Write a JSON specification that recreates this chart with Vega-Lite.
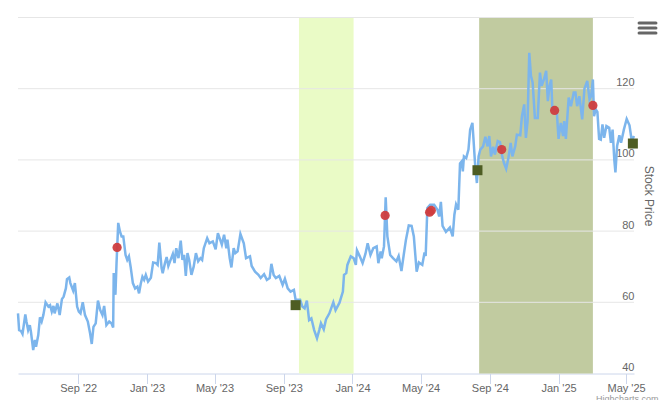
{
  "$schema": "https://vega.github.io/schema/vega-lite/v6.json",
  "width": 616,
  "height": 356,
  "autosize": "none",
  "padding": {"left": 18, "top": 17.5, "right": 26, "bottom": 26.5},
  "background": "white",
  "config": {"view": {"stroke": null}, "font": "Liberation Sans"},
  "datasets": {
    "price": [
      {"date":"2022-05-17","price":56.9},{"date":"2022-05-19","price":52.2},{"date":"2022-05-22","price":52},{"date":"2022-05-25","price":51.1},{"date":"2022-05-30","price":56.6},
      {"date":"2022-06-01","price":54.6},{"date":"2022-06-04","price":52.2},{"date":"2022-06-07","price":53.6},{"date":"2022-06-09","price":51.7},{"date":"2022-06-13","price":46.6},{"date":"2022-06-16","price":49.4},{"date":"2022-06-18","price":47.5},{"date":"2022-06-22","price":50.8},{"date":"2022-06-25","price":55.8},{"date":"2022-06-28","price":54.6},
      {"date":"2022-07-01","price":56.4},{"date":"2022-07-05","price":60},{"date":"2022-07-10","price":58.8},{"date":"2022-07-13","price":59.2},{"date":"2022-07-16","price":57.4},{"date":"2022-07-19","price":59},{"date":"2022-07-21","price":56.9},{"date":"2022-07-26","price":59.7},{"date":"2022-07-30","price":56.4},
      {"date":"2022-08-03","price":60.9},{"date":"2022-08-06","price":61.6},{"date":"2022-08-10","price":63.9},{"date":"2022-08-12","price":66.5},{"date":"2022-08-16","price":67},{"date":"2022-08-18","price":65.4},{"date":"2022-08-23","price":63.3},{"date":"2022-08-26","price":65.4},{"date":"2022-08-30","price":58.8},
      {"date":"2022-09-02","price":57.4},{"date":"2022-09-05","price":56.9},{"date":"2022-09-09","price":60},{"date":"2022-09-13","price":56.4},{"date":"2022-09-18","price":54.6},{"date":"2022-09-22","price":51.3},{"date":"2022-09-25","price":48.3},{"date":"2022-09-28","price":53.1},
      {"date":"2022-10-02","price":54.1},{"date":"2022-10-06","price":60.5},{"date":"2022-10-10","price":57.8},{"date":"2022-10-14","price":56.4},{"date":"2022-10-17","price":59},{"date":"2022-10-21","price":53.6},{"date":"2022-10-26","price":54.6},{"date":"2022-10-30","price":54.1},
      {"date":"2022-11-02","price":52.9},{"date":"2022-11-03","price":68.2},{"date":"2022-11-06","price":62.1},{"date":"2022-11-08","price":71},{"date":"2022-11-11","price":82.3},{"date":"2022-11-14","price":79.9},{"date":"2022-11-17","price":78.5},{"date":"2022-11-20","price":78.5},{"date":"2022-11-24","price":73.3},{"date":"2022-11-27","price":71.9},{"date":"2022-11-30","price":72.9},
      {"date":"2022-12-03","price":70},{"date":"2022-12-07","price":65.4},{"date":"2022-12-11","price":63.9},{"date":"2022-12-15","price":64.4},{"date":"2022-12-18","price":62.5},{"date":"2022-12-21","price":65.2},{"date":"2022-12-24","price":67.2},{"date":"2022-12-27","price":66.3},{"date":"2022-12-30","price":67.7},
      {"date":"2023-01-03","price":65.8},{"date":"2023-01-08","price":66.9},{"date":"2023-01-12","price":71.2},{"date":"2023-01-17","price":71},{"date":"2023-01-20","price":70.5},{"date":"2023-01-23","price":76.8},{"date":"2023-01-27","price":69.6},{"date":"2023-01-29","price":68.2},
      {"date":"2023-02-02","price":71},{"date":"2023-02-05","price":72.7},{"date":"2023-02-08","price":70.2},{"date":"2023-02-12","price":71.9},{"date":"2023-02-16","price":73.6},{"date":"2023-02-19","price":71},{"date":"2023-02-22","price":75.2},{"date":"2023-02-26","price":72.4},
      {"date":"2023-03-02","price":77.3},{"date":"2023-03-05","price":71.9},{"date":"2023-03-08","price":73.3},{"date":"2023-03-11","price":67.4},{"date":"2023-03-14","price":73.8},{"date":"2023-03-17","price":71.9},{"date":"2023-03-21","price":67.7},{"date":"2023-03-25","price":70},{"date":"2023-03-29","price":73.8},
      {"date":"2023-04-02","price":71.5},{"date":"2023-04-06","price":72.4},{"date":"2023-04-09","price":71.9},{"date":"2023-04-12","price":75.2},{"date":"2023-04-18","price":78},{"date":"2023-04-22","price":76.6},{"date":"2023-04-28","price":77.1},
      {"date":"2023-05-03","price":74.9},{"date":"2023-05-07","price":79.4},{"date":"2023-05-11","price":77.6},{"date":"2023-05-14","price":76.2},{"date":"2023-05-18","price":79},{"date":"2023-05-22","price":75.2},{"date":"2023-05-24","price":77.6},{"date":"2023-05-28","price":72.4},{"date":"2023-05-31","price":69.8},
      {"date":"2023-06-04","price":75.2},{"date":"2023-06-07","price":73.8},{"date":"2023-06-11","price":74.3},{"date":"2023-06-16","price":79.2},{"date":"2023-06-22","price":76.6},{"date":"2023-06-26","price":72.4},
      {"date":"2023-07-03","price":72.9},{"date":"2023-07-06","price":70.2},{"date":"2023-07-12","price":68.6},{"date":"2023-07-18","price":67.7},{"date":"2023-07-22","price":66.8},{"date":"2023-07-28","price":67.9},
      {"date":"2023-08-02","price":66.3},{"date":"2023-08-07","price":66.8},{"date":"2023-08-10","price":70.8},{"date":"2023-08-14","price":67.7},{"date":"2023-08-18","price":66.8},{"date":"2023-08-24","price":67.4},{"date":"2023-08-30","price":64.9},
      {"date":"2023-09-03","price":66.6},{"date":"2023-09-08","price":63.9},{"date":"2023-09-13","price":63},{"date":"2023-09-19","price":63.5},{"date":"2023-09-22","price":60.7},{"date":"2023-09-30","price":60.7},
      {"date":"2023-10-04","price":58.8},{"date":"2023-10-08","price":58.3},{"date":"2023-10-12","price":60.5},{"date":"2023-10-16","price":55},{"date":"2023-10-20","price":55.5},{"date":"2023-10-25","price":52.2},{"date":"2023-10-30","price":49.9},
      {"date":"2023-11-03","price":52.2},{"date":"2023-11-06","price":54.1},{"date":"2023-11-11","price":52.4},{"date":"2023-11-15","price":55.2},{"date":"2023-11-21","price":56.9},{"date":"2023-11-28","price":60},
      {"date":"2023-12-02","price":57.8},{"date":"2023-12-09","price":59.9},{"date":"2023-12-15","price":63},{"date":"2023-12-17","price":67.7},{"date":"2023-12-21","price":68.2},{"date":"2023-12-23","price":70.5},{"date":"2023-12-29","price":72.9},
      {"date":"2024-01-03","price":72.4},{"date":"2024-01-07","price":70.5},{"date":"2024-01-09","price":74.6},{"date":"2024-01-14","price":72.9},{"date":"2024-01-19","price":71},{"date":"2024-01-24","price":73.6},{"date":"2024-01-28","price":76.6},
      {"date":"2024-02-02","price":73.3},{"date":"2024-02-07","price":75.2},{"date":"2024-02-13","price":75.7},{"date":"2024-02-16","price":71},{"date":"2024-02-20","price":74.3},{"date":"2024-02-22","price":72.4},{"date":"2024-02-26","price":75.7},{"date":"2024-02-29","price":89.5},
      {"date":"2024-03-03","price":78.5},{"date":"2024-03-08","price":73.3},{"date":"2024-03-13","price":72.4},{"date":"2024-03-19","price":71.5},{"date":"2024-03-23","price":73},{"date":"2024-03-28","price":68.8},
      {"date":"2024-04-01","price":73.3},{"date":"2024-04-05","price":77.6},{"date":"2024-04-10","price":81.6},{"date":"2024-04-15","price":81.5},{"date":"2024-04-19","price":78.5},{"date":"2024-04-24","price":68.6},{"date":"2024-04-28","price":71.2},
      {"date":"2024-05-04","price":70.5},{"date":"2024-05-08","price":74},{"date":"2024-05-10","price":73},{"date":"2024-05-13","price":86.5},{"date":"2024-05-18","price":87.4},{"date":"2024-05-25","price":87.4},{"date":"2024-05-31","price":86},
      {"date":"2024-06-03","price":84.1},{"date":"2024-06-06","price":88.2},{"date":"2024-06-09","price":81.5},{"date":"2024-06-15","price":79.8},{"date":"2024-06-22","price":81},{"date":"2024-06-27","price":78.5},
      {"date":"2024-06-30","price":84.6},{"date":"2024-07-03","price":87.5},{"date":"2024-07-07","price":86},{"date":"2024-07-10","price":99},{"date":"2024-07-13","price":99.6},{"date":"2024-07-15","price":96.8},{"date":"2024-07-17","price":101},{"date":"2024-07-21","price":100.5},{"date":"2024-07-25","price":102.9},{"date":"2024-07-28","price":108.5},
      {"date":"2024-08-01","price":110.4},{"date":"2024-08-03","price":105.7},{"date":"2024-08-06","price":98.2},{"date":"2024-08-09","price":93.5},{"date":"2024-08-12","price":101},{"date":"2024-08-15","price":102.9},{"date":"2024-08-20","price":103.8},{"date":"2024-08-24","price":106.5},{"date":"2024-08-28","price":103.8},{"date":"2024-08-31","price":106.7},
      {"date":"2024-09-03","price":101},{"date":"2024-09-07","price":103.7},{"date":"2024-09-10","price":101.5},{"date":"2024-09-15","price":105.3},{"date":"2024-09-19","price":105},{"date":"2024-09-23","price":101},{"date":"2024-09-26","price":99.2},{"date":"2024-09-30","price":97.5},
      {"date":"2024-10-04","price":100.6},{"date":"2024-10-08","price":104.8},{"date":"2024-10-11","price":101},{"date":"2024-10-16","price":103.8},{"date":"2024-10-19","price":107.1},{"date":"2024-10-25","price":106.9},{"date":"2024-10-28","price":112.3},
      {"date":"2024-11-01","price":115.6},{"date":"2024-11-04","price":106.2},{"date":"2024-11-07","price":110.9},{"date":"2024-11-10","price":130.1},{"date":"2024-11-13","price":123.6},{"date":"2024-11-16","price":121.7},{"date":"2024-11-20","price":111.8},{"date":"2024-11-25","price":111.8},{"date":"2024-11-29","price":124.5},
      {"date":"2024-12-02","price":120.8},{"date":"2024-12-06","price":122.6},{"date":"2024-12-10","price":125},{"date":"2024-12-13","price":116.5},{"date":"2024-12-16","price":120.8},{"date":"2024-12-19","price":122.6},{"date":"2024-12-21","price":114.2},{"date":"2024-12-25","price":114.2},{"date":"2024-12-29","price":113.2},
      {"date":"2025-01-01","price":105.9},{"date":"2025-01-05","price":110.4},{"date":"2025-01-09","price":106.7},{"date":"2025-01-11","price":110.9},{"date":"2025-01-14","price":105.9},{"date":"2025-01-19","price":117.5},{"date":"2025-01-23","price":115.1},{"date":"2025-01-28","price":118.9},{"date":"2025-01-31","price":118.9},
      {"date":"2025-02-03","price":115.1},{"date":"2025-02-07","price":117.9},{"date":"2025-02-12","price":111.4},{"date":"2025-02-16","price":120},{"date":"2025-02-21","price":122.2},{"date":"2025-02-25","price":117},{"date":"2025-02-28","price":118},
      {"date":"2025-03-03","price":122.6},{"date":"2025-03-05","price":112.3},{"date":"2025-03-08","price":114.2},{"date":"2025-03-11","price":113.5},{"date":"2025-03-14","price":105.9},{"date":"2025-03-17","price":105.7},{"date":"2025-03-20","price":110},{"date":"2025-03-23","price":106.2},{"date":"2025-03-27","price":109.5},
      {"date":"2025-04-01","price":109},{"date":"2025-04-04","price":104.8},{"date":"2025-04-07","price":108.5},{"date":"2025-04-10","price":100.1},{"date":"2025-04-12","price":96.5},{"date":"2025-04-15","price":103.9},{"date":"2025-04-19","price":106.9},{"date":"2025-04-22","price":104.8},{"date":"2025-04-27","price":108.5},
      {"date":"2025-05-02","price":111.5},{"date":"2025-05-07","price":109.7},{"date":"2025-05-11","price":105.3},{"date":"2025-05-15","price":106.7}
    ],
    "bands": [
      {"start":"2023-09-28","end":"2024-01-03","kind":"light"},
      {"start":"2024-08-13","end":"2025-03-03","kind":"dark"}
    ],
    "grid": [{"level":60},{"level":80},{"level":100},{"level":120},{"level":140}],
    "events": [
      {"date":"2022-11-09","price":75.4},
      {"date":"2024-02-28","price":84.4},
      {"date":"2024-05-17","price":85.3},
      {"date":"2024-05-20","price":85.8},
      {"date":"2024-09-22","price":102.9},
      {"date":"2024-12-25","price":113.9},
      {"date":"2025-03-03","price":115.3}
    ],
    "signals": [
      {"date":"2023-09-22","price":59.2},
      {"date":"2024-08-10","price":97.1},
      {"date":"2025-05-13","price":104.6}
    ],
    "menu": [
      {"from":"2025-05-24","to":"2025-06-23","level":138.45},
      {"from":"2025-05-24","to":"2025-06-23","level":137.04},
      {"from":"2025-05-24","to":"2025-06-23","level":135.63}
    ]
  },
  "encoding": {
    "x": {
      "field": "date",
      "type": "temporal",
      "title": "Highcharts.com",
      "scale": {"type": "utc", "domain": [{"year":2022,"month":5,"date":17,"utc":true},{"year":2025,"month":5,"date":15,"utc":true}]},
      "axis": {
        "values": [
          {"year":2022,"month":9,"date":1,"utc":true},{"year":2023,"month":1,"date":1,"utc":true},{"year":2023,"month":5,"date":1,"utc":true},
          {"year":2023,"month":9,"date":1,"utc":true},{"year":2024,"month":1,"date":1,"utc":true},{"year":2024,"month":5,"date":1,"utc":true},
          {"year":2024,"month":9,"date":1,"utc":true},{"year":2025,"month":1,"date":1,"utc":true},{"year":2025,"month":5,"date":1,"utc":true}
        ],
        "format": "%b '%y",
        "grid": false,
        "domainColor": "#ccd6eb",
        "tickColor": "#ccd6eb",
        "tickSize": 10,
        "labelColor": "#666666",
        "labelFontSize": 11,
        "labelPadding": -1,
        "labelFlush": false,
        "titleColor": "#999999",
        "titleFontSize": 9,
        "titleFontWeight": "normal",
        "titleAlign": "right",
        "titleX": 640,
        "titleY": 25,
        "titleBaseline": "middle"
      }
    },
    "y": {
      "field": "price",
      "type": "quantitative",
      "title": "Stock Price",
      "scale": {"domain": [40, 140]},
      "axis": {
        "orient": "right",
        "values": [40, 60, 80, 100, 120],
        "grid": false,
        "domain": false,
        "ticks": false,
        "labelColor": "#666666",
        "labelFontSize": 11,
        "labelAlign": "right",
        "labelBaseline": "bottom",
        "labelPadding": 0,
        "labelOffset": -1,
        "titleColor": "#666666",
        "titleFontSize": 12,
        "titleFontWeight": "normal",
        "titleAngle": 90,
        "titleX": 14,
        "titleY": 178,
        "titleAlign": "center",
        "titleBaseline": "middle"
      }
    }
  },
  "layer": [
    {
      "data": {"name": "bands"},
      "mark": {"type": "rect"},
      "encoding": {
        "x": {"field": "start", "type": "temporal", "title": "Highcharts.com"},
        "x2": {"field": "end"},
        "y": {"value": 0},
        "y2": {"value": 356},
        "color": {"field": "kind", "type": "nominal", "legend": null, "scale": {"domain": ["light","dark"], "range": ["#eafbc6","#c1cba0"]}}
      }
    },
    {
      "data": {"name": "grid"},
      "mark": {"type": "rule", "color": "#e6e6e6", "strokeWidth": 1},
      "encoding": {
        "x": {"value": 0},
        "x2": {"value": 616},
        "y": {"field": "level", "type": "quantitative", "title": "Stock Price"}
      }
    },
    {
      "data": {"name": "price"},
      "mark": {"type": "line", "color": "#7cb5ec", "strokeWidth": 2.5}
    },
    {
      "data": {"name": "events"},
      "mark": {"type": "point", "shape": "circle", "filled": true, "size": 85, "color": "#cf3d3f", "opacity": 0.95}
    },
    {
      "data": {"name": "signals"},
      "mark": {"type": "point", "shape": "square", "filled": true, "size": 100, "color": "#4e5d23", "opacity": 1}
    },
    {
      "data": {"name": "menu"},
      "mark": {"type": "rule", "color": "#666666", "strokeWidth": 3, "strokeCap": "round"},
      "encoding": {
        "x": {"field": "from", "type": "temporal", "title": "Highcharts.com"},
        "x2": {"field": "to"},
        "y": {"field": "level", "type": "quantitative", "title": "Stock Price"}
      }
    }
  ]
}
